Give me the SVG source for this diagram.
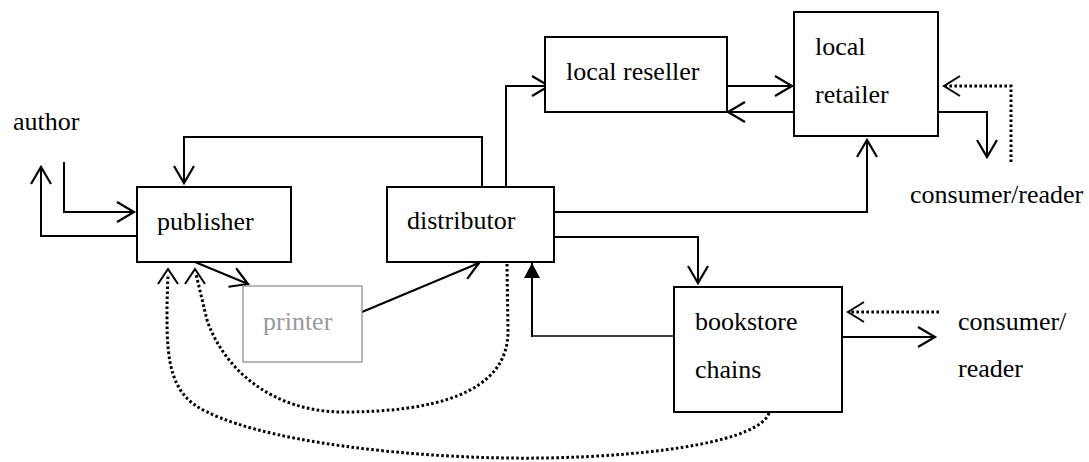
<svg xmlns="http://www.w3.org/2000/svg" width="1089" height="462" viewBox="0 0 1089 462">
<style>
text{font-family:"Liberation Serif","DejaVu Serif",serif;font-size:26px;fill:#000}
.box{fill:#fff;stroke:#000;stroke-width:2}
.gbox{fill:#fff;stroke:#888;stroke-width:1.2}
.gt{fill:#999}
.c{fill:none;stroke:#000;stroke-width:2}
.thin{fill:none;stroke:#000;stroke-width:1.3}
.d{fill:none;stroke:#000;stroke-width:3;stroke-dasharray:2.6 2.4}
.a{marker-end:url(#open)}
</style>
<defs>
<marker id="open" markerUnits="userSpaceOnUse" viewBox="-20 -12 22 24" markerWidth="22" markerHeight="24" refX="0" refY="0" orient="auto" overflow="visible">
<path d="M-17,-10 L0,0 L-17,10" fill="none" stroke="#000" stroke-width="2.2"/>
</marker>
<marker id="fill" markerUnits="userSpaceOnUse" viewBox="-16 -9 17 18" markerWidth="17" markerHeight="18" refX="0" refY="0" orient="auto" overflow="visible">
<path d="M-15,-8 L0,0 L-15,8 Z" fill="#000"/>
</marker>
</defs>
<g id="connectors">
<path class="c a" d="M64,162 V212 H134"/>
<path class="c a" d="M137,236 H41 V167"/>
<path class="c a" d="M482,187 V137 H184 V183"/>
<path class="c a" d="M506,187 V86 H549"/>
<path class="c a" d="M723,86 H792"/>
<path class="c a" d="M794,112 H728"/>
<path class="c a" d="M938,112 H987 V157"/>
<path class="d" d="M1011,162 V86 H946"/>
<path class="c" d="M960,76 L944,86 L960,96"/>
<path class="c a" d="M554,212 H867 V140"/>
<path class="c a" d="M554,237 H698 V283"/>
<path class="thin" d="M674,336 H532"/>
<path class="c" d="M532,337 V263" marker-end="url(#fill)"/>
<path class="c a" d="M842,337 H935"/>
<path class="d" d="M939,312 H850"/>
<path class="c" d="M864,302 L848,312 L864,322"/>
<path class="c a" d="M195,262 L248,284"/>
<path class="c a" d="M362,312 L479,263"/>
<path class="d" d="M507,264 L508,330 C509,395 430,412 343,412 C275,412 225,372 207,320 L196,274"/>
<path class="c" d="M185,284 L195,269 L205,284"/>
<path class="d" d="M769,413 C760,440 660,456 545,458 C420,460 250,442 195,405 C166,385 167,345 167,305 L168,274"/>
<path class="c" d="M158,284 L168,269 L178,284"/>
</g>
<g id="author"><text x="13" y="130">author</text></g>
<g id="publisher"><rect class="box" x="137" y="187" width="154" height="75"/><text x="157" y="230">publisher</text></g>
<g id="distributor"><rect class="box" x="387" y="187" width="167" height="75"/><text x="407" y="229">distributor</text></g>
<g id="local-reseller"><rect class="box" x="545" y="37" width="182" height="75"/><text x="566" y="80">local reseller</text></g>
<g id="local-retailer"><rect class="box" x="794" y="12" width="144" height="124"/><text x="815" y="55">local</text><text x="815" y="103">retailer</text></g>
<g id="consumer-reader-1"><text x="910" y="203">consumer/reader</text></g>
<g id="printer"><rect class="gbox" x="243" y="286" width="119" height="76"/><text class="gt" x="263" y="330">printer</text></g>
<g id="bookstore-chains"><rect class="box" x="674" y="287" width="168" height="125"/><text x="695" y="330">bookstore</text><text x="695" y="378">chains</text></g>
<g id="consumer-reader-2"><text x="958" y="330">consumer/</text><text x="958" y="377">reader</text></g>
</svg>
